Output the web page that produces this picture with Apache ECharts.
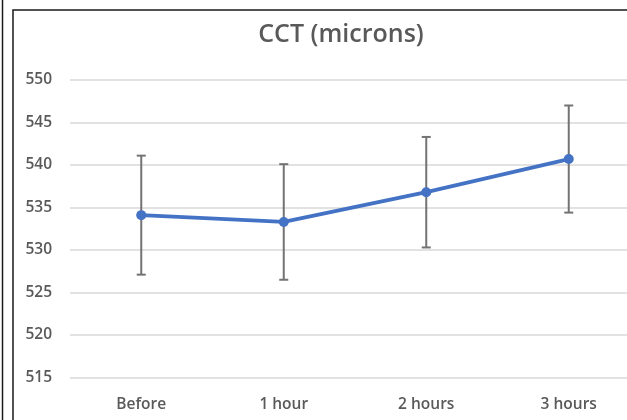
<!DOCTYPE html>
<html>
<head>
<meta charset="utf-8">
<script src="https://cdn.jsdelivr.net/npm/echarts@6/dist/echarts.min.js"></script>
<style>
  html, body { margin: 0; padding: 0; background: #ffffff; overflow: hidden; }
  #chart { width: 640px; height: 420px; }
</style>
</head>
<body>
<div id="chart"></div>
<script>
// Central corneal thickness over time (mean ± SD)
const categories = ['Before', '1 hour', '2 hours', '3 hours'];
const meanCCT = [534.1, 533.3, 536.8, 540.7];
const errorCCT = [7.0, 6.8, 6.5, 6.3];
const yTicks = { min: 515, max: 550, step: 5 };

const errorData = categories.map((c, i) => [i, meanCCT[i] - errorCCT[i], meanCCT[i] + errorCCT[i]]);

const textColor = '#595959';
const font = '"Open Sans", "DejaVu Sans", sans-serif';

const chart = echarts.init(document.getElementById('chart'), null, { renderer: 'canvas' });

chart.setOption({
  animation: false,
  backgroundColor: '#ffffff',
  title: {
    text: 'CCT (microns)',
    left: 336,
    top: 17,
    textAlign: 'center',
    textStyle: { fontFamily: font, fontSize: 25, fontWeight: 600, color: textColor }
  },
  graphic: [
    { type: 'rect', shape: { x: 13, y: 10, width: 700, height: 500 },
      style: { fill: 'none', stroke: '#1a1a1a', lineWidth: 1.5 }, silent: true },
    { type: 'line', shape: { x1: 2.5, y1: 0, x2: 2.5, y2: 420 },
      style: { stroke: '#1a1a1a', lineWidth: 1.5 }, silent: true }
  ],
  grid: { left: 70, right: 0, top: 80, bottom: 42.5 },
  xAxis: {
    type: 'category',
    data: categories,
    boundaryGap: true,
    axisLine: { show: false },
    axisTick: { show: false },
    axisLabel: { color: textColor, fontFamily: font, fontSize: 15.5, fontWeight: 600, margin: 19 }
  },
  yAxis: {
    type: 'value',
    min: yTicks.min,
    max: yTicks.max,
    interval: yTicks.step,
    axisLine: { show: false },
    axisTick: { show: false },
    axisLabel: { color: textColor, fontFamily: font, fontSize: 15.5, fontWeight: 600, margin: 18 },
    splitLine: { lineStyle: { color: '#d9d9d9', width: 1.5 } }
  },
  series: [
    {
      type: 'custom',
      name: 'SD',
      z: 1,
      data: errorData,
      encode: { x: 0, y: [1, 2] },
      renderItem: function (params, api) {
        const x = api.value(0);
        const lo = api.coord([x, api.value(1)]);
        const hi = api.coord([x, api.value(2)]);
        const half = 4.5;
        const style = { stroke: '#737373', lineWidth: 2 };
        return {
          type: 'group',
          children: [
            { type: 'line', shape: { x1: lo[0], y1: lo[1], x2: hi[0], y2: hi[1] }, style: style },
            { type: 'line', shape: { x1: hi[0] - half, y1: hi[1], x2: hi[0] + half, y2: hi[1] }, style: style },
            { type: 'line', shape: { x1: lo[0] - half, y1: lo[1], x2: lo[0] + half, y2: lo[1] }, style: style }
          ]
        };
      }
    },
    {
      type: 'line',
      name: 'CCT',
      z: 5,
      data: meanCCT,
      symbol: 'circle',
      symbolSize: 10,
      lineStyle: { color: '#4472c4', width: 3.8 },
      itemStyle: { color: '#4472c4' }
    }
  ]
});
</script>
</body>
</html>
